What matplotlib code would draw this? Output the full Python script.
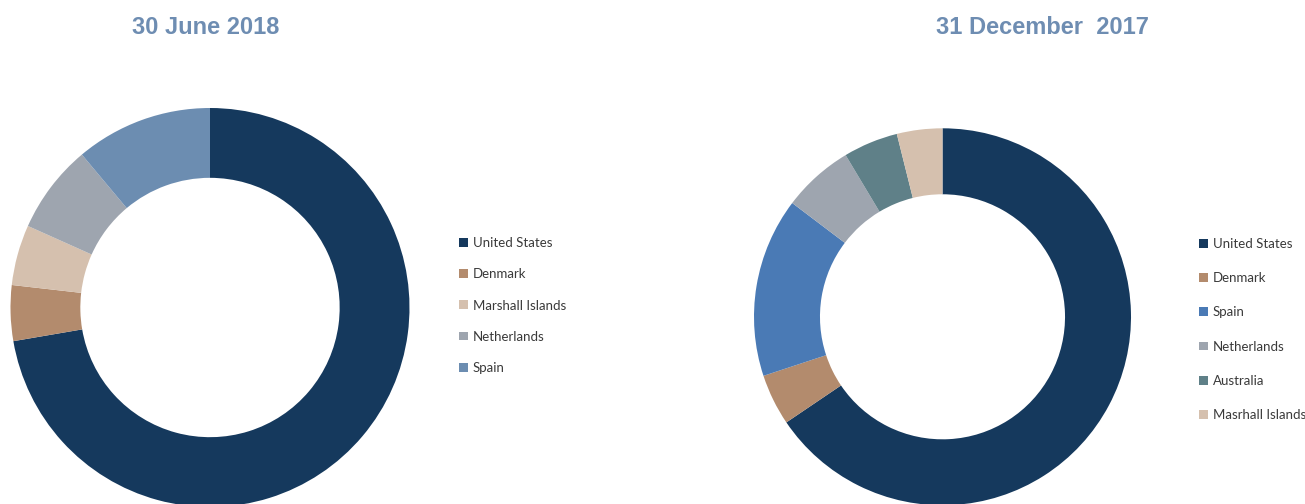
import matplotlib
matplotlib.use('Agg')
import matplotlib.pyplot as plt

# data (shares in %)
land_2018 = ['United States', 'Denmark', 'Marshall Islands', 'Netherlands', 'Spain']
andel_2018 = [72.3, 4.5, 4.9, 7.2, 11.1]
farger_2018 = ['#15395d', '#b38b6d', '#d5c0ae', '#9ea5af', '#6c8db1']

land_2017 = ['United States', 'Denmark', 'Spain', 'Netherlands', 'Australia', 'Masrhall Islands']
andel_2017 = [65.6, 4.4, 15.4, 6.1, 4.7, 3.9]
farger_2017 = ['#15395d', '#b38b6d', '#4a7ab5', '#9ea5af', '#5f8088', '#d5c0ae']

W, H = 1305, 504
fig = plt.figure(figsize=(W / 100, H / 100), dpi=100)

tittel_farge = '#6e8db2'
tittel_font = ['Liberation Sans Narrow', 'Liberation Sans', 'DejaVu Sans']


def px_axes(cx, cy, r):
    # axes i piksler (cy maalt ovenfra)
    return fig.add_axes([(cx - r) / W, (H - cy - r) / H, 2 * r / W, 2 * r / H])


def lag_donut(cx, cy, r, verdier, farger, etiketter, leg_x, leg_y, spacing):
    ax = px_axes(cx, cy, r)
    kiler, _ = ax.pie(verdier, colors=farger, startangle=90, counterclock=False,
                      radius=1.0, wedgeprops=dict(width=0.35, linewidth=0))
    ax.set_xlim(-1, 1)
    ax.set_ylim(-1, 1)
    ax.set_aspect('equal')
    ax.axis('off')
    fig.legend(kiler, etiketter, loc='center left',
               bbox_to_anchor=(leg_x / W, 1 - leg_y / H), frameon=False,
               prop={'family': 'Lato', 'size': 9.5}, labelcolor='#3a3a3a',
               handlelength=0.65, handleheight=0.65, handletextpad=0.4,
               labelspacing=spacing, borderpad=0, borderaxespad=0)
    return ax


lag_donut(210, 307.5, 199.5, andel_2018, farger_2018, land_2018, 459, 305.5, 1.45)
lag_donut(942.5, 316.8, 188.5, andel_2017, farger_2017, land_2017, 1199, 329.5, 1.68)

fig.text(205.5 / W, 1 - 28 / H, '30 June 2018', ha='center', va='center',
         fontsize=17, fontweight='bold', color=tittel_farge, family=tittel_font)
fig.text(1042 / W, 1 - 28 / H, '31 December  2017', ha='center', va='center',
         fontsize=17, fontweight='bold', color=tittel_farge, family=tittel_font)

fig.savefig('out.png', dpi=100)
